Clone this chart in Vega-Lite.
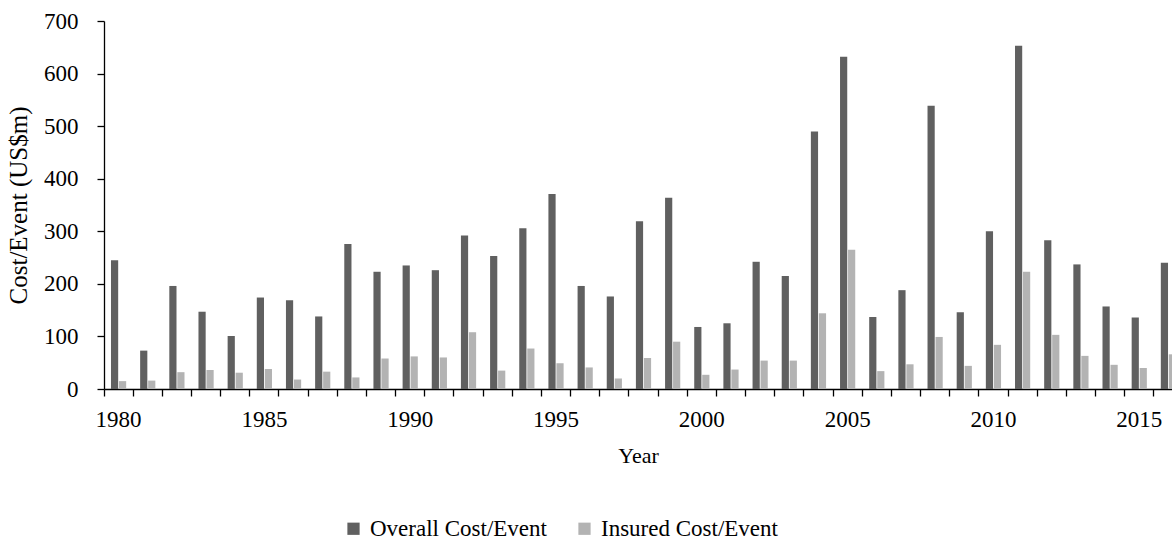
{
  "$schema": "https://vega.github.io/schema/vega-lite/v6.json",
  "autosize": {"type": "none"},
  "width": 1068,
  "height": 368,
  "padding": {"left": 104, "top": 21, "right": 0, "bottom": 151},
  "background": "white",
  "config": {
    "view": {"stroke": null},
    "font": "Liberation Serif",
    "axis": {"labelFont": "Liberation Serif", "titleFont": "Liberation Serif", "labelColor": "#000", "titleColor": "#000", "domainColor": "#000", "tickColor": "#000", "labelFontSize": 23, "titleFontSize": 22, "titleFontWeight": "normal", "grid": false, "domainWidth": 1.3, "tickWidth": 1.3},
    "legend": {"labelFont": "Liberation Serif", "labelFontSize": 23, "labelColor": "#000", "labelLimit": 400}
  },
  "data": {"values": [
    {"year": 1980, "series": "Overall Cost/Event", "value": 245},
    {"year": 1980, "series": "Insured Cost/Event", "value": 15},
    {"year": 1981, "series": "Overall Cost/Event", "value": 73},
    {"year": 1981, "series": "Insured Cost/Event", "value": 16},
    {"year": 1982, "series": "Overall Cost/Event", "value": 196},
    {"year": 1982, "series": "Insured Cost/Event", "value": 32},
    {"year": 1983, "series": "Overall Cost/Event", "value": 147},
    {"year": 1983, "series": "Insured Cost/Event", "value": 36},
    {"year": 1984, "series": "Overall Cost/Event", "value": 101},
    {"year": 1984, "series": "Insured Cost/Event", "value": 31},
    {"year": 1985, "series": "Overall Cost/Event", "value": 174},
    {"year": 1985, "series": "Insured Cost/Event", "value": 38},
    {"year": 1986, "series": "Overall Cost/Event", "value": 169},
    {"year": 1986, "series": "Insured Cost/Event", "value": 18},
    {"year": 1987, "series": "Overall Cost/Event", "value": 138},
    {"year": 1987, "series": "Insured Cost/Event", "value": 33},
    {"year": 1988, "series": "Overall Cost/Event", "value": 276},
    {"year": 1988, "series": "Insured Cost/Event", "value": 22},
    {"year": 1989, "series": "Overall Cost/Event", "value": 223},
    {"year": 1989, "series": "Insured Cost/Event", "value": 58},
    {"year": 1990, "series": "Overall Cost/Event", "value": 235},
    {"year": 1990, "series": "Insured Cost/Event", "value": 62},
    {"year": 1991, "series": "Overall Cost/Event", "value": 226},
    {"year": 1991, "series": "Insured Cost/Event", "value": 60},
    {"year": 1992, "series": "Overall Cost/Event", "value": 292},
    {"year": 1992, "series": "Insured Cost/Event", "value": 108},
    {"year": 1993, "series": "Overall Cost/Event", "value": 253},
    {"year": 1993, "series": "Insured Cost/Event", "value": 35},
    {"year": 1994, "series": "Overall Cost/Event", "value": 306},
    {"year": 1994, "series": "Insured Cost/Event", "value": 77},
    {"year": 1995, "series": "Overall Cost/Event", "value": 371},
    {"year": 1995, "series": "Insured Cost/Event", "value": 49},
    {"year": 1996, "series": "Overall Cost/Event", "value": 196},
    {"year": 1996, "series": "Insured Cost/Event", "value": 41},
    {"year": 1997, "series": "Overall Cost/Event", "value": 176},
    {"year": 1997, "series": "Insured Cost/Event", "value": 20},
    {"year": 1998, "series": "Overall Cost/Event", "value": 319},
    {"year": 1998, "series": "Insured Cost/Event", "value": 59},
    {"year": 1999, "series": "Overall Cost/Event", "value": 364},
    {"year": 1999, "series": "Insured Cost/Event", "value": 90},
    {"year": 2000, "series": "Overall Cost/Event", "value": 118},
    {"year": 2000, "series": "Insured Cost/Event", "value": 27},
    {"year": 2001, "series": "Overall Cost/Event", "value": 125},
    {"year": 2001, "series": "Insured Cost/Event", "value": 37},
    {"year": 2002, "series": "Overall Cost/Event", "value": 242},
    {"year": 2002, "series": "Insured Cost/Event", "value": 54},
    {"year": 2003, "series": "Overall Cost/Event", "value": 215},
    {"year": 2003, "series": "Insured Cost/Event", "value": 54},
    {"year": 2004, "series": "Overall Cost/Event", "value": 490},
    {"year": 2004, "series": "Insured Cost/Event", "value": 144},
    {"year": 2005, "series": "Overall Cost/Event", "value": 632},
    {"year": 2005, "series": "Insured Cost/Event", "value": 265},
    {"year": 2006, "series": "Overall Cost/Event", "value": 137},
    {"year": 2006, "series": "Insured Cost/Event", "value": 34},
    {"year": 2007, "series": "Overall Cost/Event", "value": 188},
    {"year": 2007, "series": "Insured Cost/Event", "value": 47},
    {"year": 2008, "series": "Overall Cost/Event", "value": 539},
    {"year": 2008, "series": "Insured Cost/Event", "value": 99},
    {"year": 2009, "series": "Overall Cost/Event", "value": 146},
    {"year": 2009, "series": "Insured Cost/Event", "value": 44},
    {"year": 2010, "series": "Overall Cost/Event", "value": 300},
    {"year": 2010, "series": "Insured Cost/Event", "value": 84},
    {"year": 2011, "series": "Overall Cost/Event", "value": 653},
    {"year": 2011, "series": "Insured Cost/Event", "value": 223},
    {"year": 2012, "series": "Overall Cost/Event", "value": 283},
    {"year": 2012, "series": "Insured Cost/Event", "value": 103},
    {"year": 2013, "series": "Overall Cost/Event", "value": 237},
    {"year": 2013, "series": "Insured Cost/Event", "value": 63},
    {"year": 2014, "series": "Overall Cost/Event", "value": 157},
    {"year": 2014, "series": "Insured Cost/Event", "value": 46},
    {"year": 2015, "series": "Overall Cost/Event", "value": 136},
    {"year": 2015, "series": "Insured Cost/Event", "value": 40},
    {"year": 2016, "series": "Overall Cost/Event", "value": 240},
    {"year": 2016, "series": "Insured Cost/Event", "value": 66}
  ]},
  "mark": {"type": "bar"},
  "encoding": {
    "x": {
      "field": "year", "type": "ordinal",
      "scale": {"range": [0, 1079], "paddingInner": 0, "paddingOuter": 0},
      "axis": {
        "title": "Year",
        "labelAngle": 0,
        "bandPosition": 0,
        "labelExpr": "datum.value % 5 === 0 ? datum.label : ''",
        "labelOverlap": false,
        "labelFlush": false,
        "tickSize": 7,
        "labelPadding": 12,
        "titleX": 534,
        "titleY": 56
      }
    },
    "xOffset": {
      "field": "series", "type": "nominal",
      "sort": ["Overall Cost/Event", "Insured Cost/Event"],
      "scale": {"paddingInner": 0.1, "paddingOuter": 0.873}
    },
    "y": {
      "field": "value", "type": "quantitative",
      "scale": {"domain": [0, 700], "nice": false},
      "axis": {
        "title": "Cost/Event (US$m)",
        "titleFontSize": 25,
        "values": [0, 100, 200, 300, 400, 500, 600, 700],
        "tickSize": 7,
        "labelPadding": 19,
        "titleX": -73,
        "titleY": 184
      }
    },
    "color": {
      "field": "series", "type": "nominal",
      "scale": {"domain": ["Overall Cost/Event", "Insured Cost/Event"], "range": ["#606060", "#b3b3b3"]},
      "legend": {
        "title": null,
        "orient": "none",
        "direction": "horizontal",
        "legendX": 238,
        "legendY": 496,
        "symbolType": "square",
        "symbolSize": 150,
        "symbolStrokeWidth": 0,
        "symbolOpacity": 1,
        "labelOffset": 5,
        "columnPadding": 26
      }
    }
  }
}
